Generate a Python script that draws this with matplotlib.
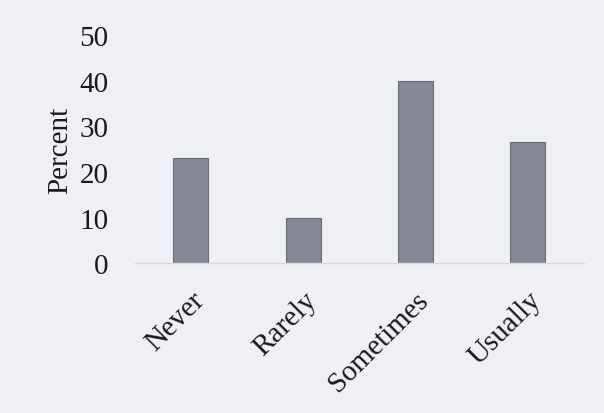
import matplotlib.pyplot as plt
import numpy as np

# Frequency responses, percent
categories = ['Never', 'Rarely', 'Sometimes', 'Usually']
percent = [23, 10, 40, 26.5]
yticks = [0, 10, 20, 30, 40, 50]

plt.rcParams['font.family'] = ['Liberation Serif', 'DejaVu Serif']

bg = '#eef0f6'
fig = plt.figure(figsize=(6.04, 4.14), dpi=100, facecolor=bg)
ax = fig.add_axes([0.223, 0.362, 0.744, 0.551], facecolor=bg)

x = np.arange(len(categories))
ax.bar(x, percent, width=0.31, color='#868995', edgecolor='#6a6d78', linewidth=0.8)

ax.set_xlim(-0.5, 3.5)
ax.set_ylim(0, 50)
ax.set_yticks(yticks)
ax.set_xticks(x)
ax.set_xticklabels(categories, rotation=45, ha='right', rotation_mode='anchor')
ax.tick_params(axis='both', length=0, labelsize=21, colors='#1a1a1a')
ax.tick_params(axis='x', pad=17)
ax.tick_params(axis='y', pad=19)
ax.set_ylabel('Percent', fontsize=21, color='#1a1a1a', labelpad=4)

for side in ['top', 'right', 'left']:
    ax.spines[side].set_visible(False)
ax.spines['bottom'].set_color('#d6d8e0')
ax.spines['bottom'].set_linewidth(1.0)

fig.savefig('out.png', dpi=100, facecolor=bg)
